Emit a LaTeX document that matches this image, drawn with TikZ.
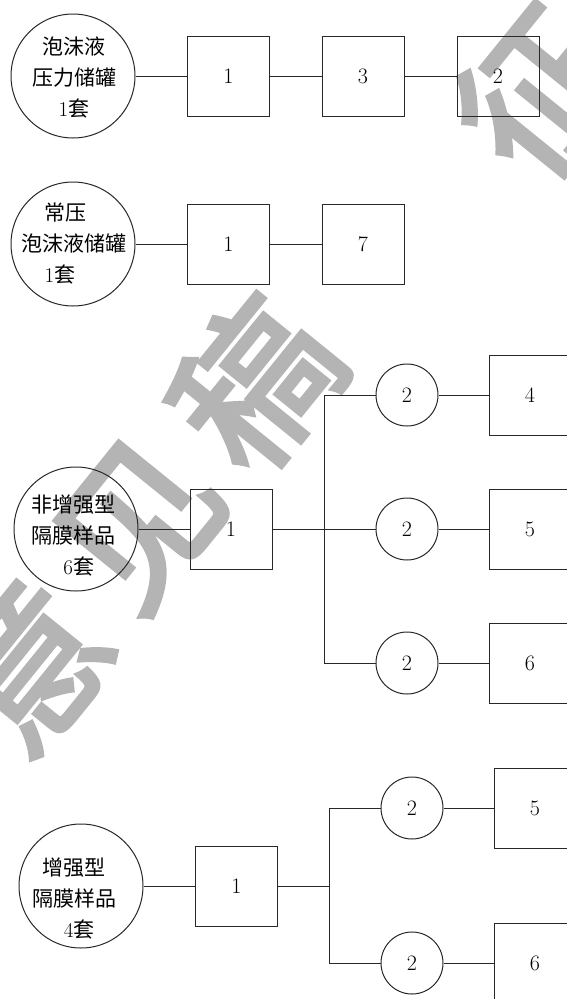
\documentclass[tikz,border=0pt]{standalone}
\usepackage{fontspec}
\newfontfamily\cjk{Noto Sans CJK SC}
\newfontfamily\wmfont{Noto Sans CJK SC}[FakeBold=3]
\definecolor{wmgray}{RGB}{180,180,180}
\definecolor{linegray}{RGB}{40,40,40}

\begin{document}
\begin{tikzpicture}[x=1pt, y=-1pt, line width=1pt, draw=linegray,
  cell/.style={draw=linegray, minimum width=82, minimum height=80, inner sep=0pt, font=\fontsize{22}{22}\selectfont},
  tank/.style={draw=linegray, circle, minimum size=124, inner sep=0pt},
  ring/.style={draw=linegray, circle, minimum size=62, inner sep=0pt, font=\fontsize{22}{22}\selectfont},
  tanktext/.style={align=center, inner sep=0pt, font=\cjk\fontsize{21}{31}\selectfont},
  watermark/.style={text=wmgray, rotate=51, inner sep=0pt, font=\wmfont\fontsize{158}{158}\selectfont}]

\useasboundingbox (0,0) rectangle (567,999);

%%%%%%%%%%%% watermark
\foreach \ch [count=\k from 2] in {意,见,稿}
  \node[watermark] (wm\k) at ({-205+115*\k}, {947-141*\k}) {\ch};
\node[watermark] (wm5) at (540,92) {征};

%%%%%%%%%%%% pressure tank
\node[tank] (tank1) at (73,76) {};
\node[tanktext] (tank1txt) at (74,77) {泡沫液\\压力储罐\\\textrm{1}套};
\node[cell] (a1) at (228.5,76) {1};
\node[cell] (a3) at (363,76) {3};
\node[cell] (a2) at (498,76) {2};
\draw (tank1) -- (a1) -- (a3) -- (a2);

%%%%%%%%%%%% atmospheric tank
\node[tank] (tank2) at (73,244) {};
\node[tanktext, align=left] (tank2txt) at (74,244) {\hspace*{1.1em}常压\\泡沫液储罐\\\hspace*{1.1em}\textrm{1}套};
\node[cell] (b1) at (228.5,244) {1};
\node[cell] (b7) at (363,244) {7};
\draw (tank2) -- (b1) -- (b7);

%%%%%%%%%%%% non-reinforced membrane
\node[tank] (tank3) at (76,529) {};
\node[tanktext] (tank3txt) at (73.5,535.5) {非增强型\\隔膜样品\\\hspace*{0.5em}\textrm{6}套};
\node[cell] (c1) at (231,529) {1};
\coordinate (c top) at (324.5,395);
\coordinate (c bot) at (324.5,663);
\foreach \name/\y/\num in {c4/395/4, c5/529/5, c6/663/6} {
  \node[ring] (\name v) at (407,\y) {2};
  \node[cell] (\name) at (530,\y) {\num};
  \draw (\name v) -- (\name);
}
\draw (tank3) -- (c1);
\draw (c1) -- (c5v);
\draw (c4v) -- (c top) -- (c bot) -- (c6v);

%%%%%%%%%%%% reinforced membrane
\node[tank] (tank4) at (81,886) {};
\node[tanktext] (tank4txt) at (74,898) {增强型\\隔膜样品\\\hspace*{0.5em}\textrm{4}套};
\node[cell] (d1) at (236.5,886) {1};
\coordinate (d fork) at (329.5,886);
\coordinate (d top) at (329.5,808);
\coordinate (d bot) at (329.5,963);
\foreach \name/\y/\num in {d5/808/5, d6/963/6} {
  \node[ring] (\name v) at (412,\y) {2};
  \node[cell] (\name) at (535,\y) {\num};
  \draw (\name v) -- (\name);
}
\draw (tank4) -- (d1) -- (d fork);
\draw (d5v) -- (d top) -- (d bot) -- (d6v);
\end{tikzpicture}
\end{document}
